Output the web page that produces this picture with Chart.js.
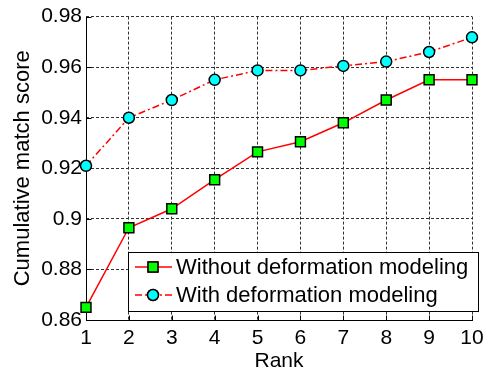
<!DOCTYPE html>
<html>
<head>
<meta charset="utf-8">
<script src="https://cdn.jsdelivr.net/npm/chart.js@4/dist/chart.umd.min.js"></script>
<style>
  html, body { margin: 0; padding: 0; background: #fff; }
  #wrap { width: 492px; height: 372px; }
</style>
</head>
<body>
<div id="wrap"><canvas id="cms" width="492" height="372"></canvas></div>
<script>
// ranks on the x axis
const ranks = [1, 2, 3, 4, 5, 6, 7, 8, 9, 10];
// cumulative match score
const withoutDeform = [0.865, 0.8965, 0.904, 0.9155, 0.9265, 0.9305, 0.938, 0.947, 0.955, 0.955];
const withDeform = [0.921, 0.940, 0.947, 0.955, 0.9587, 0.9587, 0.9605, 0.9622, 0.966, 0.9718];
const rankTicks = [1, 2, 3, 4, 5, 6, 7, 8, 9, 10];
const scoreTicks = [0.86, 0.88, 0.9, 0.92, 0.94, 0.96, 0.98];
const seriesNames = ["Without deformation modeling", "With deformation modeling"];

const FONT = "'Liberation Sans', Arial, sans-serif";
Chart.defaults.font.family = FONT;
Chart.defaults.color = "#000";

function toPoints(vals) {
    return ranks.map((r, i) => ({ x: r, y: vals[i] }));
}

// solid left/bottom axis lines with short inward ticks, like matlab
const axesLines = {
    id: "axesLines",
    beforeDatasetsDraw(chart) {
        const { ctx, chartArea: a, scales } = chart;
        const L = Math.round(a.left) + 0.5, B = Math.round(a.bottom) + 0.5;
        ctx.save();
        ctx.strokeStyle = "#000";
        ctx.lineWidth = 1;
        ctx.setLineDash([]);
        ctx.beginPath();
        rankTicks.forEach(t => {
            const x = Math.round(scales.x.getPixelForValue(t)) + 0.5;
            ctx.moveTo(x, B); ctx.lineTo(x, B - 5);
        });
        scoreTicks.forEach(t => {
            const y = Math.round(scales.y.getPixelForValue(t)) + 0.5;
            ctx.moveTo(L, y); ctx.lineTo(L + 5, y);
        });
        ctx.moveTo(L, Math.round(a.top));
        ctx.lineTo(L, B);
        ctx.lineTo(Math.round(a.right) + 1, B);
        ctx.stroke();
        ctx.restore();
    }
};

// legend box inside the axes, bottom right
const boxLegend = {
    id: "boxLegend",
    afterDatasetsDraw(chart) {
        const { ctx, chartArea: a } = chart;
        const left = a.left + 42, right = a.right + 6;
        const top = a.bottom - 68, bottom = a.bottom - 9;
        ctx.save();
        ctx.fillStyle = "#fff";
        ctx.fillRect(left, top, right - left, bottom - top);
        ctx.strokeStyle = "#000";
        ctx.lineWidth = 1;
        ctx.strokeRect(left + 0.5, top + 0.5, right - left, bottom - top);
        chart.data.datasets.forEach((ds, i) => {
            const y = top + 15 + i * 28;
            ctx.strokeStyle = ds.borderColor;
            ctx.lineWidth = ds.borderWidth;
            ctx.setLineDash(ds.borderDash || []);
            ctx.beginPath();
            ctx.moveTo(left + 7, y);
            ctx.lineTo(left + 44, y);
            ctx.stroke();
            ctx.setLineDash([]);
            Chart.helpers.drawPoint(ctx, {
                pointStyle: ds.pointStyle,
                radius: ds.pointRadius,
                borderWidth: ds.pointBorderWidth
            }, left + 25, y);
            ctx.fillStyle = ds.pointBackgroundColor;
            ctx.strokeStyle = ds.pointBorderColor;
            ctx.lineWidth = ds.pointBorderWidth;
            ctx.fill();
            ctx.stroke();
            ctx.fillStyle = "#000";
            ctx.font = "22px " + FONT;
            ctx.textBaseline = "middle";
            ctx.fillText(ds.label, left + 48, y + 1);
        });
        ctx.restore();
    }
};

new Chart(document.getElementById("cms"), {
    type: "line",
    data: {
        datasets: [
            {
                label: seriesNames[0],
                data: toPoints(withoutDeform),
                borderColor: "#ff0000",
                borderWidth: 1.5,
                pointStyle: "rect",
                pointRadius: 7,
                pointBackgroundColor: "#00ff00",
                pointBorderColor: "#000",
                pointBorderWidth: 1.5,
                clip: false
            },
            {
                label: seriesNames[1],
                data: toPoints(withDeform),
                borderColor: "#ff0000",
                borderWidth: 1.5,
                borderDash: [7, 3, 2, 3],
                pointStyle: "circle",
                pointRadius: 5.5,
                pointBackgroundColor: "#00ffff",
                pointBorderColor: "#000",
                pointBorderWidth: 1.5,
                clip: false
            }
        ]
    },
    options: {
        responsive: false,
        animation: false,
        devicePixelRatio: 1,
        layout: { padding: { left: 0, right: 20, top: 15, bottom: 0 } },
        plugins: { legend: { display: false }, tooltip: { enabled: false } },
        scales: {
            x: {
                type: "linear",
                min: 1,
                max: 10,
                afterBuildTicks: s => { s.ticks = rankTicks.map(v => ({ value: v })); },
                afterFit: s => { s.height = 52; },
                grid: { color: "#333", lineWidth: 1, drawTicks: false },
                border: { display: false, dash: [3, 2] },
                ticks: { font: { size: 21 }, padding: 6, maxRotation: 0 },
                title: { display: true, text: "Rank", font: { size: 21 }, padding: { top: 0, bottom: -2 } }
            },
            y: {
                min: 0.86,
                max: 0.98,
                afterBuildTicks: s => { s.ticks = scoreTicks.map(v => ({ value: v })); },
                afterFit: s => { s.width = 86; },
                grid: { color: "#333", lineWidth: 1, drawTicks: false },
                border: { display: false, dash: [3, 2] },
                ticks: {
                    font: { size: 21 },
                    padding: 4,
                    callback: v => String(+v.toFixed(2))
                },
                title: { display: true, text: "Cumulative match score", font: { size: 22 }, padding: { top: 10, bottom: 0 } }
            }
        }
    },
    plugins: [axesLines, boxLegend]
});
</script>
</body>
</html>
